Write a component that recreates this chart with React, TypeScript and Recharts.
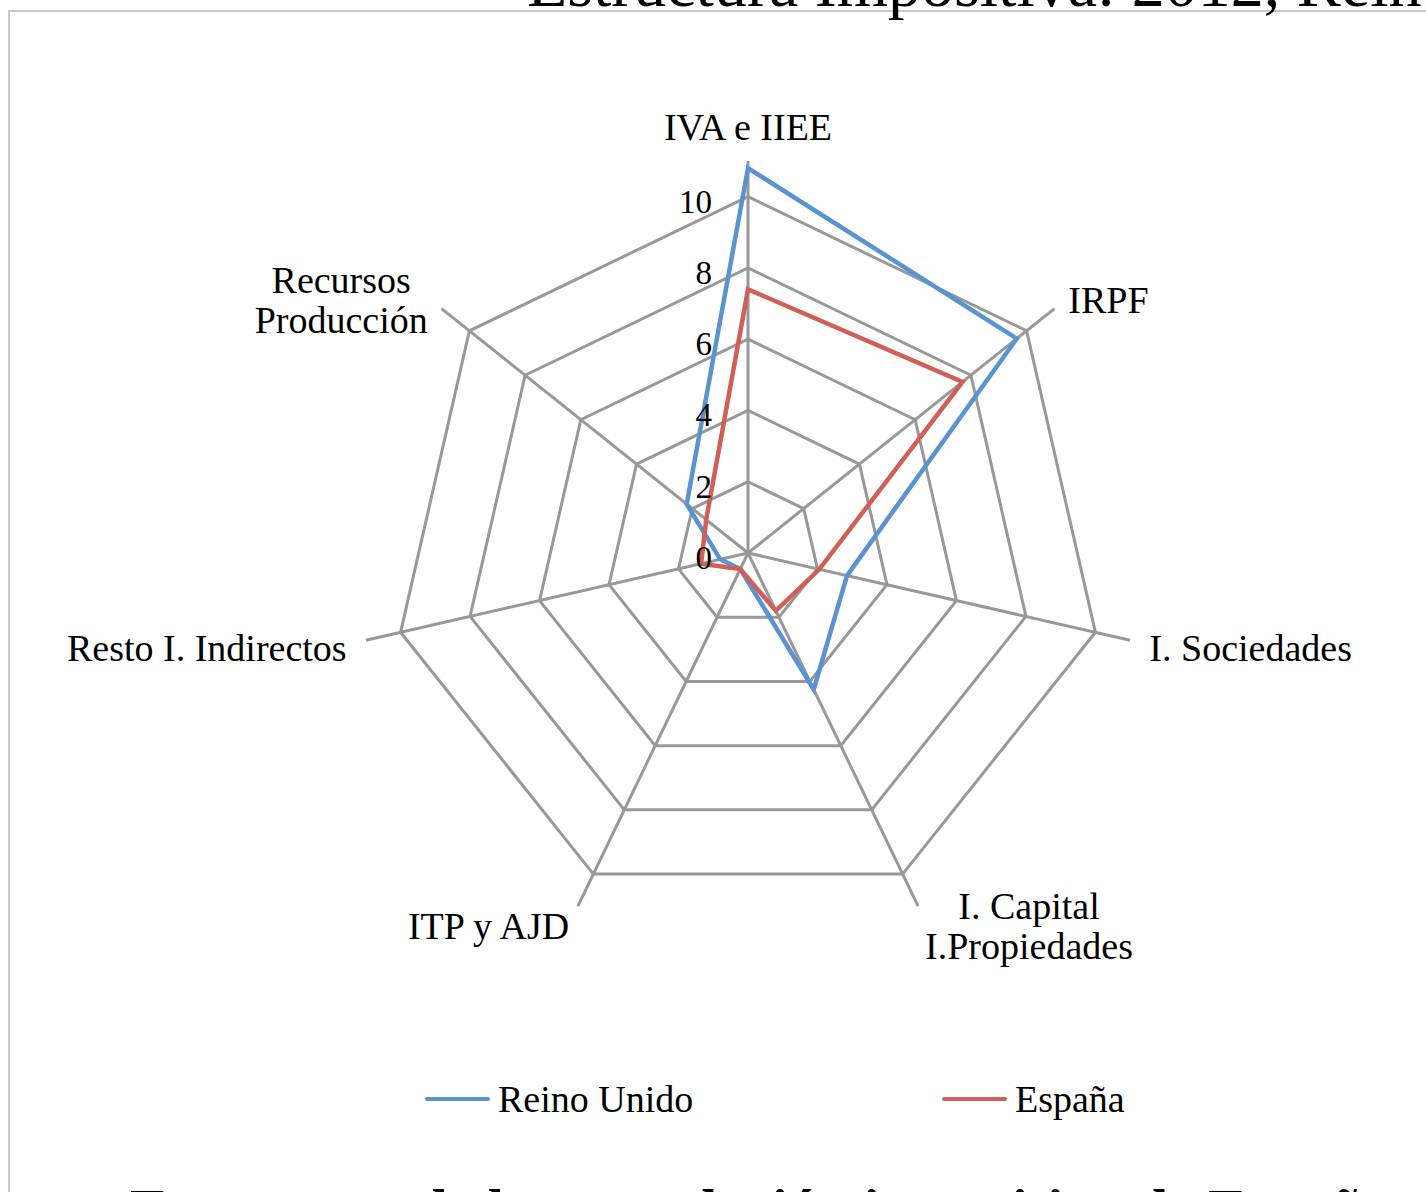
import { RadarChart, Radar, PolarGrid, PolarAngleAxis, PolarRadiusAxis, Legend } from "recharts"

const categories = [
  "IVA e IIEE",
  "IRPF",
  "I. Sociedades",
  "I. Capital\nI.Propiedades",
  "ITP y AJD",
  "Resto I. Indirectos",
  "Recursos\nProducción",
]
const reinoUnido = [10.8, 9.65, 2.85, 4.25, 0.5, 0.8, 2.2]
const espana = [7.4, 7.7, 2.05, 1.8, 0.5, 1.35, 1.5]
const radiusTicks = [0, 2, 4, 6, 8, 10]
const radiusMax = 11

const data = categories.map((c, i) => ({ category: c, reinoUnido: reinoUnido[i], espana: espana[i] }))

const CX = 748
const CY = 553
const OUTER = 392
const FONT = '"Liberation Serif", "Times New Roman", serif'
const BLUE = "#5a93d0"
const RED = "#cf5f57"
const GRID = "#989898"

let ctx: CanvasRenderingContext2D | null = null
const measure = (s: string, size: number) => {
  if (!ctx) ctx = document.createElement("canvas").getContext("2d")
  if (!ctx) return s.length * size * 0.45
  ctx.font = `${size}px "Liberation Serif"`
  return ctx.measureText(s).width
}

// category labels sit just past the end of each spoke, pushed away from the centre
const AngleTick = (props: any) => {
  const { payload, index } = props
  const lines = String(payload.value).split("\n")
  const a = ((90 - (index * 360) / categories.length) * Math.PI) / 180
  const cos = Math.cos(a)
  const sin = Math.sin(a)
  const ex = CX + OUTER * cos
  const ey = CY - OUTER * sin
  const size = 38
  const lh = 40
  const w = Math.max(...lines.map((l) => measure(l, size)))
  const gap = 4 + 16 * cos * cos
  let mx = ex
  let my = ey - 34
  if (cos > 0.1) mx = ex + gap + w / 2
  if (cos < -0.1) mx = ex - gap - w / 2
  if (Math.abs(cos) >= 0.1) my = ey + (sin > 0 ? -14 * sin : Math.max(8, -22 * sin))
  return (
    <g>
      {lines.map((l, k) => (
        <text
          key={k}
          x={mx}
          y={my + (k - (lines.length - 1) / 2) * lh}
          textAnchor="middle"
          dominantBaseline="central"
          fontFamily={FONT}
          fontSize={size}
          fill="#000"
        >
          {l}
        </text>
      ))}
    </g>
  )
}

const RadiusTick = (props: any) => (
  <text
    x={props.x - 36}
    y={props.y + 5}
    textAnchor="end"
    dominantBaseline="central"
    fontFamily={FONT}
    fontSize={33}
    fill="#000"
  >
    {props.payload.value}
  </text>
)

const LegendContent = () => (
  <div style={{ display: "flex", paddingLeft: 425, fontFamily: FONT, fontSize: 38 }}>
    {[
      { name: "Reino Unido", color: BLUE },
      { name: "España", color: RED },
    ].map((it) => (
      <div key={it.name} style={{ display: "flex", alignItems: "center", width: 517, flexShrink: 0 }}>
        <div style={{ width: 65, height: 4, borderRadius: 2, background: it.color, marginRight: 8 }} />
        <span>{it.name}</span>
      </div>
    ))}
  </div>
)

export default function App() {
  return (
    <div style={{ position: "absolute", left: 0, top: 0, width: 1426, height: 1192, overflow: "hidden", background: "#fff" }}>
      <div
        style={{
          position: "absolute",
          left: 8,
          top: 10,
          width: 1500,
          height: 1300,
          border: "2px solid #c8c8c8",
          boxSizing: "border-box",
        }}
      />
      <div style={{ position: "absolute", left: 0, top: 0 }}>
        <RadarChart width={1426} height={1192} data={data} cx={CX} cy={CY} outerRadius={OUTER}>
          <PolarGrid stroke={GRID} strokeWidth={3} gridType="polygon" />
          <PolarAngleAxis dataKey="category" tick={AngleTick} tickLine={false} axisLine={false} />
          <PolarRadiusAxis
            angle={90}
            type="number"
            domain={[0, radiusMax]}
            ticks={radiusTicks}
            tick={RadiusTick}
            axisLine={false}
            tickLine={false}
          />
          <Radar
            name="Reino Unido"
            dataKey="reinoUnido"
            stroke={BLUE}
            strokeWidth={4.5}
            fill="none"
            fillOpacity={0}
            dot={false}
            isAnimationActive={false}
          />
          <Radar
            name="España"
            dataKey="espana"
            stroke={RED}
            strokeWidth={4.5}
            fill="none"
            fillOpacity={0}
            dot={false}
            isAnimationActive={false}
          />
          <Legend content={LegendContent} wrapperStyle={{ position: "absolute", top: 1077, left: 0, width: 1426 }} />
        </RadarChart>
      </div>
      <div
        style={{
          position: "absolute",
          left: 527,
          top: -49,
          fontFamily: FONT,
          fontSize: 66,
          lineHeight: "66px",
          whiteSpace: "nowrap",
          color: "#000",
        }}
      >
        Estructura Impositiva: 2012, Reino Unido y España
      </div>
      <div
        style={{
          position: "absolute",
          left: 130,
          top: 1181,
          fontFamily: FONT,
          fontSize: 58,
          fontWeight: "bold",
          lineHeight: "58px",
          whiteSpace: "nowrap",
          color: "#000",
        }}
      >
        Estructura de la recaudación impositiva de España
      </div>
    </div>
  )
}
